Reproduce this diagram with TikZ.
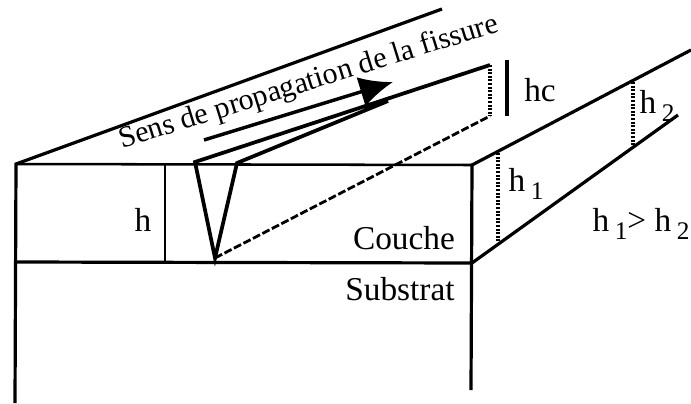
\documentclass[tikz,border=0pt]{standalone}
\usepackage{fontspec}
\setmainfont{Liberation Serif}
\usepackage{tikz}
\usetikzlibrary{arrows.meta,positioning,calc}
\newcommand{\idx}[1]{\raisebox{-5.5pt}{\fontsize{19}{19}\selectfont #1}}
\tikzset{
  edge/.style={line width=2.4pt},
  thinedge/.style={line width=1.9pt},
  crack/.style={line width=2.8pt},
  hidden/.style={line width=2.1pt, dash pattern=on 6pt off 2pt},
  dots/.style={line width=2.3pt, dash pattern=on 1.5pt off 1.2pt},
  lab/.style={inner sep=0pt, font=\fontsize{25}{27}\selectfont},
  arr/.style={-{Latex[length=25pt,width=23pt]}, line width=2.6pt}
}

\begin{document}
\begin{tikzpicture}[x=0.75pt, y=-0.75pt]
  \useasboundingbox (0,0) rectangle (691,403);
  % block
  \coordinate (tl) at (16,164);
  \coordinate (tr) at (472,165);
  \coordinate (ml) at (15,262);
  \coordinate (mr) at (472,263);
  \coordinate (bl) at (15,403);
  \coordinate (br) at (471,390);
  \coordinate (back) at (442,9);
  \coordinate (rtop) at (691,50);
  \coordinate (rlow) at (678,115);
  \draw[edge] (back)--(tl)--(bl);
  \draw[edge] (rtop)--(tr)--(br);
  \draw[edge] (rlow)--(mr);
  \draw[thinedge] (tl)--(tr);
  \draw[edge] (ml)--(mr);
  % notch
  \coordinate (na) at (195,162);
  \coordinate (nb) at (237,163);
  \coordinate (tip) at (215,258);
  \coordinate (far) at (490,65);
  \coordinate (mrg) at (388,101);
  \coordinate (farb) at (490,116);
  \draw[crack,line join=miter] (far)--(na)--(tip)--(nb)--(mrg);
  \draw[hidden] (tip)--(farb);
  \draw[dots] (far)--(farb);
  % heights
  \coordinate (ha) at (165,164);
  \coordinate (hb) at (165,262);
  \draw[thinedge] (ha)--(hb);
  \coordinate (hca) at (507,60);
  \coordinate (hcb) at (507,116);
  \draw[crack] (hca)--(hcb);
  \coordinate (hoa) at (498,153);
  \coordinate (hob) at (498,243);
  \draw[dots] (hoa)--(hob);
  \coordinate (hta) at (633,82);
  \coordinate (htb) at (633,145);
  \draw[dots] (hta)--(htb);
  % propagation
  \coordinate (pa) at (204,140);
  \coordinate (pb) at (393,82);
  \draw[arr] (pa)--(pb);
  \node[lab, rotate=17.3, font=\fontsize{22.5}{24}\selectfont] (sens) at (309,83) {Sens de propagation de la fissure};
  \node[lab] (h) at (143,220) {h};
  \node[lab] (hc) at (540,90) {hc};
  \node[lab] (couche) at (404,238) {Couche};
  \node[lab] (subs) at (400,289) {Substrat};
  \node[lab] (h1) at (526,184) {h\,\idx{1}};
  \node[lab] (h2) at (657,106) {h\,\idx{2}};
  \node[lab] (cmp) at (641,224) {h\,\idx{1}> h\,\idx{2}};
\end{tikzpicture}
\end{document}
